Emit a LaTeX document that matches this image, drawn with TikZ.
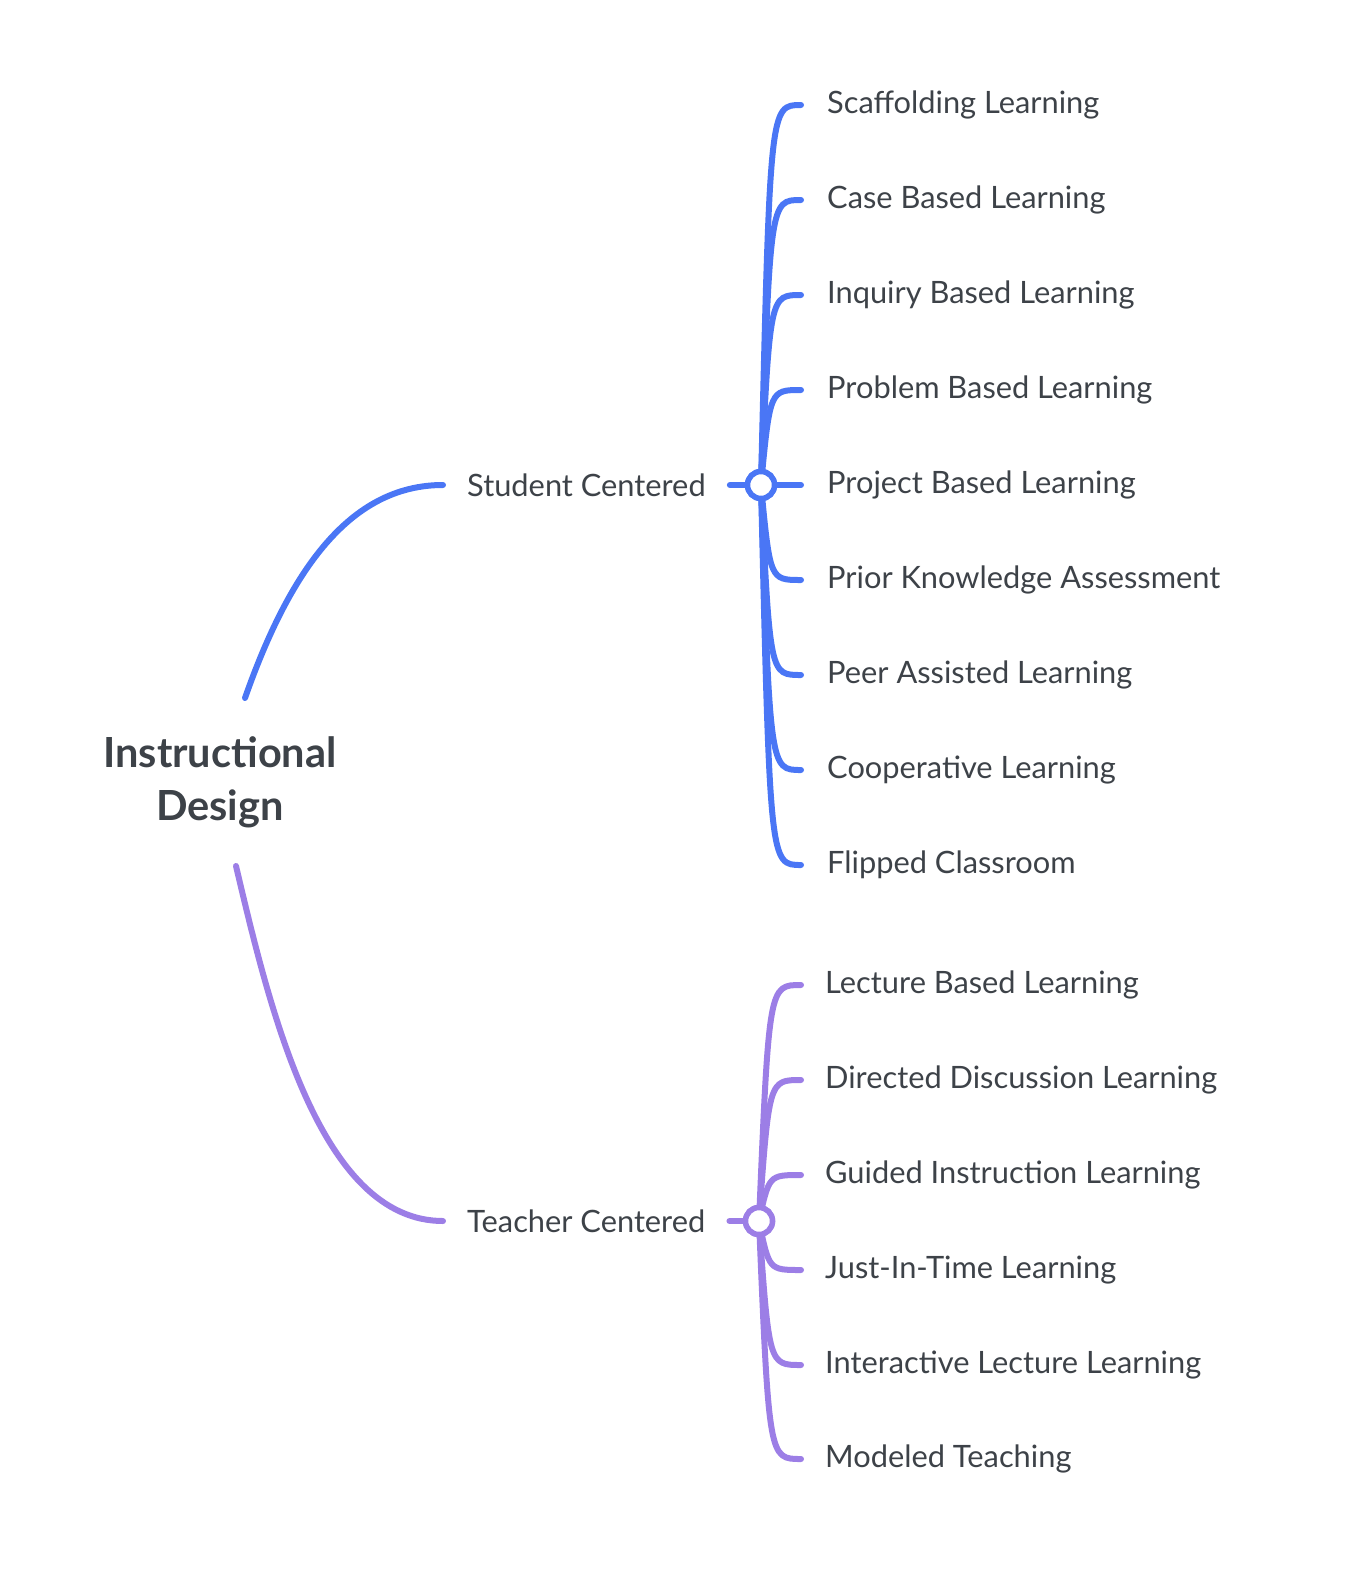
\documentclass[tikz,border=0pt]{standalone}
\usepackage{fontspec}
\setmainfont{Lato}
\usetikzlibrary{positioning}
\definecolor{stublue}{RGB}{74,118,245}
\definecolor{teapurple}{RGB}{156,126,230}
\definecolor{txtgray}{RGB}{61,66,72}

\begin{document}
\begin{tikzpicture}[x=1pt, y=-1pt,
    leaf/.style={anchor=west, inner xsep=24pt, inner ysep=0pt, text=txtgray,
      font=\fontsize{30.8}{36}\selectfont},
    branch/.style={line width=6pt, line cap=round},
    hub/.style={circle, fill=white, line width=5.5pt, minimum size=27pt, inner sep=0pt}]
    \useasboundingbox (0,0) rectangle (1372,1574);
    % root
    \node[text=txtgray, align=center, font=\fontsize{41.5}{53}\selectfont\bfseries] (root) at (220,782) {Instructional\\Design};
    \coordinate (rtop) at (245,698);
    \coordinate (rbot) at (236,866);
    % main branches
    \node[leaf] (stu) at (443,485) {Student Centered};
    \node[leaf] (tea) at (443,1221) {Teacher Centered};
    \node[hub, draw=stublue] (shub) at (761,485) {};
    \node[hub, draw=teapurple] (thub) at (759,1221) {};
    \draw[branch, stublue] (rtop) .. controls (290,570) and (350,485) .. (stu.west);
    \draw[branch, teapurple] (rbot) .. controls (270,1010) and (320,1221) .. (tea.west);
    % student centered
    \foreach \y/\txt [count=\i] in {105/Scaffolding Learning, 200/Case Based Learning,
        295/Inquiry Based Learning, 390/Problem Based Learning, 485/Project Based Learning,
        580/Prior Knowledge Assessment, 675/Peer Assisted Learning,
        770/Cooperative Learning, 865/Flipped Classroom} {
      \node[leaf, inner xsep=26pt] (s\i) at (801,\y) {\txt};
      \draw[branch, stublue] (shub.center) .. controls (770,\y) and (770,\y) .. (s\i.west);
    }
    \node[hub, draw=stublue] at (shub) {};
    \draw[branch, stublue] (stu.east) -- (shub.west);
    % teacher centered
    \foreach \y/\txt [count=\i] in {985/Lecture Based Learning, 1080/Directed Discussion Learning,
        1175/Guided Instruction Learning, 1270/Just-In-Time Learning,
        1365/Interactive Lecture Learning, 1459/Modeled Teaching} {
      \node[leaf] (t\i) at (801,\y) {\txt};
      \draw[branch, teapurple] (thub.center) .. controls (769,\y) and (769,\y) .. (t\i.west);
    }
    \node[hub, draw=teapurple] at (thub) {};
    \draw[branch, teapurple] (tea.east) -- (thub.west);
\end{tikzpicture}
\end{document}
